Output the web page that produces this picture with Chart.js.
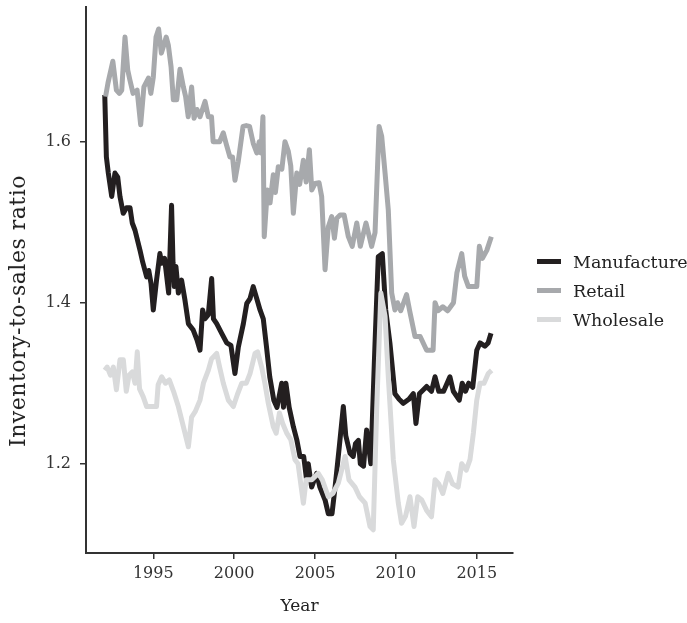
<!DOCTYPE html>
<html>
<head>
<meta charset="utf-8">
<title>Inventory-to-sales ratio</title>
<script src="https://cdn.jsdelivr.net/npm/chart.js@4.4.1/dist/chart.umd.min.js"></script>
<style>
  html, body { margin: 0; padding: 0; background: #fff; }
  #wrap { position: relative; width: 687px; height: 623px; }
  #legend {
    position: absolute; left: 537px; top: 247px;
    font-family: 'DejaVu Serif', serif; font-size: 17.5px; color: #222;
  }
  .item { display: flex; align-items: center; height: 29px; white-space: nowrap; }
  .swatch { width: 24px; height: 5px; margin-right: 12px; }
  #yTitle {
    position: absolute; left: 18px; top: 311px;
    transform: translate(-50%, -50%) rotate(-90deg);
    font-family: 'DejaVu Serif', serif; font-size: 22px; letter-spacing: 0.5px;
    color: #222; white-space: nowrap; line-height: 1;
  }
</style>
</head>
<body>
<div id="wrap">
  <canvas id="ratioChart" width="687" height="623"></canvas>
  <div id="yTitle">Inventory-to-sales ratio</div>
  <div id="legend"></div>
</div>
<script>
// ratios, x in decimal years
const manufYears = [1992.0, 1992.1, 1992.22, 1992.43, 1992.63, 1992.8, 1992.94, 1993.14, 1993.35, 1993.56,
  1993.7, 1993.87, 1994.18, 1994.35, 1994.59, 1994.72, 1994.86, 1995.0, 1995.2, 1995.41,
  1995.52, 1995.7, 1995.95, 1996.13, 1996.22, 1996.3, 1996.4, 1996.55, 1996.75, 1996.96,
  1997.17, 1997.47, 1997.7, 1997.89, 1998.05, 1998.2, 1998.4, 1998.61, 1998.72, 1998.92,
  1999.23, 1999.54, 1999.8, 2000.05, 2000.26, 2000.57, 2000.78, 2000.98, 2001.18, 2001.4,
  2001.6, 2001.8, 2002.0, 2002.2, 2002.45, 2002.65, 2002.94, 2003.05, 2003.2, 2003.4,
  2003.66, 2003.87, 2004.07, 2004.3, 2004.48, 2004.58, 2004.79, 2005.1, 2005.3, 2005.62,
  2005.82, 2006.05, 2006.24, 2006.5, 2006.75, 2006.9, 2007.16, 2007.36, 2007.5, 2007.68,
  2007.8, 2008.0, 2008.19, 2008.45, 2008.71, 2008.91, 2009.16, 2009.37, 2009.63, 2009.94,
  2010.2, 2010.46, 2010.8, 2011.08, 2011.24, 2011.45, 2011.7, 2011.9, 2012.2, 2012.42,
  2012.65, 2012.95, 2013.34, 2013.55, 2013.92, 2014.1, 2014.3, 2014.5, 2014.75, 2015.0,
  2015.2, 2015.5, 2015.7, 2015.88];
const manufValues = [1.658, 1.581, 1.561, 1.532, 1.561, 1.556, 1.532, 1.511, 1.518, 1.518,
  1.499, 1.49, 1.465, 1.45, 1.432, 1.44, 1.424, 1.391, 1.428, 1.461,
  1.449, 1.455, 1.412, 1.521, 1.45, 1.42, 1.445, 1.412, 1.428, 1.403,
  1.374, 1.366, 1.354, 1.341, 1.391, 1.38, 1.385, 1.43, 1.38, 1.374,
  1.362, 1.35, 1.347, 1.312, 1.345, 1.374, 1.399, 1.405, 1.42, 1.405,
  1.391, 1.38, 1.345, 1.308, 1.279, 1.27, 1.30, 1.27, 1.30, 1.27,
  1.246, 1.23, 1.209, 1.209, 1.18, 1.2, 1.171, 1.188, 1.171, 1.155,
  1.138, 1.138, 1.171, 1.221, 1.271, 1.235, 1.213, 1.209, 1.225, 1.229,
  1.2, 1.197, 1.242, 1.2, 1.35, 1.457, 1.461, 1.391, 1.35, 1.287,
  1.28, 1.275, 1.28, 1.287, 1.25, 1.287, 1.292, 1.296, 1.29, 1.308,
  1.29, 1.29, 1.308, 1.29, 1.279, 1.30, 1.29, 1.30, 1.295, 1.341,
  1.35, 1.346, 1.35, 1.362];

const retailYears = [1992.05, 1992.2, 1992.5, 1992.72, 1992.9, 1993.05, 1993.25, 1993.42, 1993.55, 1993.75,
  1994.0, 1994.22, 1994.42, 1994.7, 1994.85, 1995.0, 1995.17, 1995.33, 1995.5, 1995.62,
  1995.8, 1995.93, 1996.1, 1996.24, 1996.45, 1996.65, 1996.86, 1997.0, 1997.16, 1997.37,
  1997.52, 1997.7, 1997.89, 1998.2, 1998.4, 1998.6, 1998.7, 1999.1, 1999.33, 1999.5,
  1999.74, 1999.9, 2000.05, 2000.25, 2000.55, 2000.75, 2000.95, 2001.18, 2001.4, 2001.55,
  2001.65, 2001.78, 2001.86, 2002.05, 2002.22, 2002.42, 2002.55, 2002.73, 2002.95, 2003.14,
  2003.35, 2003.5, 2003.66, 2003.87, 2004.05, 2004.28, 2004.45, 2004.65, 2004.8, 2005.0,
  2005.25, 2005.41, 2005.62, 2005.82, 2006.03, 2006.2, 2006.35, 2006.55, 2006.8, 2007.06,
  2007.3, 2007.58, 2007.8, 2008.15, 2008.5, 2008.71, 2008.96, 2009.12, 2009.33, 2009.53,
  2009.74, 2009.94, 2010.1, 2010.3, 2010.66, 2010.85, 2011.18, 2011.5, 2011.9, 2012.3,
  2012.42, 2012.6, 2012.9, 2013.2, 2013.56, 2013.77, 2014.07, 2014.25, 2014.48, 2015.0,
  2015.16, 2015.35, 2015.62, 2015.9];
const retailValues = [1.656, 1.673, 1.70, 1.664, 1.66, 1.664, 1.73, 1.689, 1.677, 1.66,
  1.664, 1.621, 1.668, 1.679, 1.66, 1.68, 1.73, 1.74, 1.71, 1.718,
  1.73, 1.72, 1.693, 1.652, 1.652, 1.69, 1.668, 1.656, 1.631, 1.668,
  1.629, 1.64, 1.631, 1.65, 1.631, 1.631, 1.60, 1.60, 1.611, 1.598,
  1.581, 1.581, 1.552, 1.575, 1.619, 1.62, 1.619, 1.598, 1.586, 1.60,
  1.586, 1.631, 1.482, 1.54, 1.524, 1.559, 1.537, 1.569, 1.566, 1.60,
  1.588, 1.57, 1.511, 1.561, 1.547, 1.577, 1.55, 1.59, 1.54, 1.548,
  1.549, 1.532, 1.441, 1.494, 1.507, 1.48, 1.505, 1.509, 1.509, 1.482,
  1.47, 1.499, 1.47, 1.499, 1.47, 1.487, 1.619, 1.607, 1.561, 1.515,
  1.412, 1.391, 1.40, 1.39, 1.41, 1.39, 1.358, 1.358, 1.341, 1.341,
  1.40, 1.39, 1.395, 1.39, 1.40, 1.437, 1.461, 1.433, 1.42, 1.42,
  1.47, 1.455, 1.465, 1.482];

const wholesaleYears = [1992.0, 1992.15, 1992.35, 1992.53, 1992.72, 1992.94, 1993.15, 1993.33, 1993.5, 1993.7,
  1993.87, 1994.01, 1994.15, 1994.38, 1994.59, 1995.2, 1995.3, 1995.52, 1995.75, 1995.99,
  1996.25, 1996.55, 1996.86, 1997.17, 1997.37, 1997.6, 1997.89, 1998.1, 1998.4, 1998.6,
  1998.92, 1999.1, 1999.33, 1999.64, 1999.95, 2000.2, 2000.47, 2000.75, 2000.98, 2001.29,
  2001.45, 2001.7, 2001.9, 2002.11, 2002.42, 2002.6, 2002.8, 2003.0, 2003.25, 2003.5,
  2003.76, 2003.95, 2004.28, 2004.45, 2004.8, 2005.2, 2005.45, 2005.82, 2006.1, 2006.44,
  2006.86, 2007.1, 2007.47, 2007.75, 2008.1, 2008.4, 2008.6, 2008.81, 2009.07, 2009.33,
  2009.53, 2009.84, 2010.15, 2010.35, 2010.6, 2010.87, 2011.12, 2011.35, 2011.6, 2011.9,
  2012.2, 2012.42, 2012.65, 2012.9, 2013.24, 2013.5, 2013.85, 2014.07, 2014.35, 2014.58,
  2014.79, 2015.0, 2015.2, 2015.45, 2015.71, 2015.92];
const wholesaleValues = [1.316, 1.32, 1.31, 1.32, 1.292, 1.329, 1.329, 1.29, 1.31, 1.314,
  1.30, 1.339, 1.293, 1.283, 1.271, 1.271, 1.298, 1.308, 1.30, 1.304,
  1.29, 1.271, 1.246, 1.221, 1.258, 1.265, 1.279, 1.30, 1.316, 1.33,
  1.337, 1.32, 1.30, 1.279, 1.271, 1.286, 1.30, 1.30, 1.312, 1.337,
  1.339, 1.32, 1.30, 1.275, 1.246, 1.238, 1.263, 1.25, 1.238, 1.23,
  1.205, 1.2, 1.151, 1.18, 1.18, 1.188, 1.18, 1.159, 1.163, 1.176,
  1.209, 1.18, 1.171, 1.159, 1.151, 1.122, 1.118, 1.267, 1.412, 1.383,
  1.308, 1.205, 1.151, 1.126, 1.135, 1.159, 1.122, 1.159, 1.155, 1.142,
  1.134, 1.18, 1.175, 1.163, 1.188, 1.175, 1.171, 1.2, 1.192, 1.205,
  1.238, 1.279, 1.30, 1.30, 1.312, 1.316];

const seriesNames = ['Manufacture', 'Retail', 'Wholesale'];
const xTicks = [1995, 2000, 2005, 2010, 2015];
const yTicks = [1.2, 1.4, 1.6];

const seriesColors = ['#231f20', '#a7a9ac', '#d9dadb'];
const FONT = "'DejaVu Serif', serif";

function toPoints(xs, ys) {
  return xs.map((x, i) => ({ x: x, y: ys[i] }));
}

const seriesData = [
  toPoints(manufYears, manufValues),
  toPoints(retailYears, retailValues),
  toPoints(wholesaleYears, wholesaleValues)
];

const datasets = seriesNames.map((name, i) => ({
  label: name,
  data: seriesData[i],
  borderColor: seriesColors[i],
  backgroundColor: seriesColors[i],
  order: seriesNames.length - i   // later series drawn on top
}));

const ctx = document.getElementById('ratioChart');
new Chart(ctx, {
  type: 'line',
  data: { datasets },
  options: {
    responsive: false,
    animation: false,
    devicePixelRatio: 1,
    layout: { padding: { top: 7, right: 174, bottom: 0, left: 0 } },
    elements: {
      point: { radius: 0, hoverRadius: 0 },
      line: { borderWidth: 5, tension: 0, borderJoinStyle: 'round', fill: false }
    },
    plugins: {
      legend: { display: false },
      tooltip: { enabled: false }
    },
    scales: {
      x: {
        type: 'linear',
        min: 1990.84,
        max: 2017.24,
        afterBuildTicks: (s) => { s.ticks = xTicks.map(v => ({ value: v })); },
        afterFit: (s) => { s.height = 70; s.paddingLeft = 0; s.paddingRight = 0; },
        grid: { display: true, drawOnChartArea: false, drawTicks: true, tickLength: 6, color: '#333', lineWidth: 1.5 },
        border: { display: true, color: '#333', width: 2 },
        ticks: { font: { family: FONT, size: 16 }, color: '#333', padding: 5, maxRotation: 0, callback: (v) => String(v) },
        title: { display: true, text: 'Year', font: { family: FONT, size: 17 }, color: '#222', padding: { top: 0, bottom: 6 } }
      },
      y: {
        min: 1.0891,
        max: 1.7673,
        afterBuildTicks: (s) => { s.ticks = yTicks.map(v => ({ value: v })); },
        afterFit: (s) => { s.width = 86; s.paddingTop = 0; s.paddingBottom = 0; },
        grid: { display: true, drawOnChartArea: false, drawTicks: true, tickLength: 6, color: '#333', lineWidth: 1.5 },
        border: { display: true, color: '#333', width: 2 },
        ticks: { font: { family: FONT, size: 16 }, color: '#333', padding: 9, callback: (v) => Number(v).toFixed(1) }
      }
    }
  }
});

// legend on the right, built from the same names and colours
const legendEl = document.getElementById('legend');
seriesNames.forEach((name, i) => {
  const row = document.createElement('div');
  row.className = 'item';
  const sw = document.createElement('span');
  sw.className = 'swatch';
  sw.style.background = seriesColors[i];
  const txt = document.createElement('span');
  txt.textContent = name;
  row.appendChild(sw);
  row.appendChild(txt);
  legendEl.appendChild(row);
});
</script>
</body>
</html>
